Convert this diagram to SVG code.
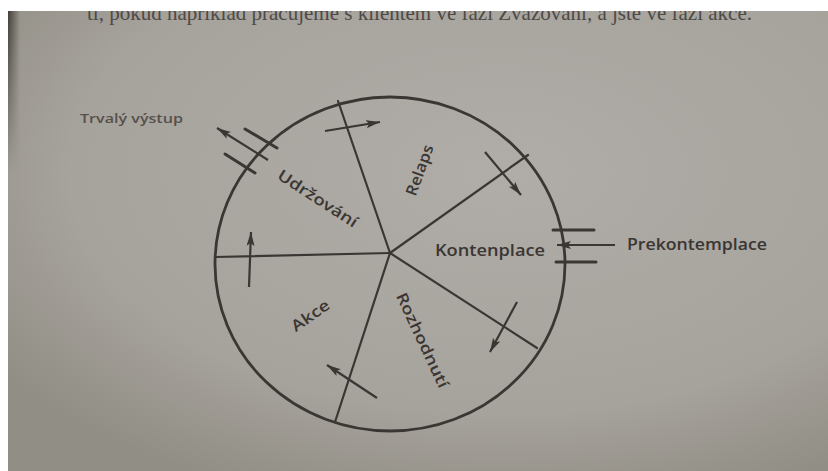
<svg xmlns="http://www.w3.org/2000/svg" width="828" height="471" viewBox="0 0 828 471">
<defs>
<radialGradient id="page" cx="0.6" cy="0.35" r="0.75">
<stop offset="0" stop-color="#b0aca7"/>
<stop offset="0.7" stop-color="#a6a29c"/>
<stop offset="1" stop-color="#918e85"/>
</radialGradient>
<linearGradient id="spine" x1="0" y1="0" x2="1" y2="0">
<stop offset="0" stop-color="#3a3630" stop-opacity="0.9"/>
<stop offset="1" stop-color="#3a3630" stop-opacity="0"/>
</linearGradient>
<linearGradient id="spineV" x1="0" y1="0" x2="0" y2="1">
<stop offset="0" stop-color="#fff" stop-opacity="1"/>
<stop offset="1" stop-color="#fff" stop-opacity="0"/>
</linearGradient>
<mask id="spineMask"><rect x="0" y="11" width="30" height="160" fill="url(#spineV)"/></mask>
<marker id="ah" markerUnits="userSpaceOnUse" markerWidth="16" markerHeight="10" refX="14" refY="4" orient="auto">
<path d="M0,0 L14,4 L0,8 L3,4 z" fill="#3a3633"/>
</marker>
<style>
.ln{stroke:#3a3633;stroke-width:2.2;fill:none;stroke-linecap:round}
.bar{stroke:#3a3633;stroke-width:3;fill:none;stroke-linecap:round}
.ar{stroke:#3a3633;stroke-width:2.2;fill:none;marker-end:url(#ah)}
.lbl{font-family:"Open Sans","Liberation Sans",sans-serif;font-weight:600;fill:#3a3633}
.top{font-family:"Liberation Serif",serif;font-size:21px;fill:#4e4a46}
</style>
</defs>
<rect x="0" y="0" width="828" height="471" fill="#ffffff"/>
<rect x="8" y="11" width="820" height="460" fill="url(#page)"/>
<rect x="8" y="11" width="12" height="160" fill="url(#spine)" mask="url(#spineMask)"/>
<text class="top" x="87" y="20" textLength="665" lengthAdjust="spacingAndGlyphs">ti, pokud například pracujeme s klientem ve fázi Zvažování, a jste ve fázi akce.</text>
<rect x="0" y="0" width="828" height="11" fill="#ffffff"/>
<rect x="0" y="0" width="8" height="471" fill="#ffffff"/>

<g id="wheel">
<ellipse class="ln" cx="390" cy="264" rx="175" ry="167" style="stroke-width:2.8"/>
</g>
<g id="connectors">
<line class="ln" x1="390" y1="253" x2="215" y2="257"/>
<line class="ln" x1="390" y1="253" x2="338" y2="101"/>
<line class="ln" x1="390" y1="253" x2="528" y2="155"/>
<line class="ln" x1="390" y1="253" x2="537" y2="348"/>
<line class="ln" x1="390" y1="253" x2="335" y2="422"/>
<line class="ar" x1="325" y1="131" x2="380" y2="122"/>
<line class="ar" x1="485" y1="152" x2="521" y2="195"/>
<line class="ar" x1="517" y1="302" x2="490" y2="352"/>
<line class="ar" x1="377" y1="398" x2="327" y2="365"/>
<line class="ar" x1="249" y1="287" x2="251" y2="232"/>
<line class="ar" x1="268" y1="160" x2="217" y2="128"/>
<line class="bar" x1="245" y1="129" x2="277" y2="148"/>
<line class="bar" x1="225" y1="154" x2="255" y2="173"/>
<line class="ar" x1="615" y1="245" x2="557" y2="245"/>
<line class="bar" x1="553" y1="230" x2="594" y2="230"/>
<line class="bar" x1="556" y1="262" x2="596" y2="262"/>
</g>
<g id="udrzovani"><text class="lbl" font-size="15.5" text-anchor="middle" dominant-baseline="central" transform="translate(318,198) rotate(33)" textLength="92" lengthAdjust="spacingAndGlyphs">Udržování</text></g>
<g id="relaps"><text class="lbl" font-size="15.5" text-anchor="middle" dominant-baseline="central" transform="translate(419,170) rotate(-70)" textLength="53" lengthAdjust="spacingAndGlyphs">Relaps</text></g>
<g id="akce"><text class="lbl" font-size="15.5" text-anchor="middle" dominant-baseline="central" transform="translate(310,315) rotate(-35)" textLength="43" lengthAdjust="spacingAndGlyphs">Akce</text></g>
<g id="rozhodnuti"><text class="lbl" font-size="15.5" text-anchor="middle" dominant-baseline="central" transform="translate(423,340) rotate(65)" textLength="103" lengthAdjust="spacingAndGlyphs">Rozhodnutí</text></g>
<g id="kontenplace"><text class="lbl" font-size="16" x="435" y="256" textLength="110" lengthAdjust="spacingAndGlyphs">Kontenplace</text></g>
<g id="prekontemplace"><text class="lbl" font-size="16" x="627" y="250" textLength="140" lengthAdjust="spacingAndGlyphs">Prekontemplace</text></g>
<g id="trvaly"><text class="lbl" font-size="13" x="80" y="123" textLength="103" lengthAdjust="spacingAndGlyphs" style="fill:#55504b">Trvalý výstup</text></g>
</svg>
